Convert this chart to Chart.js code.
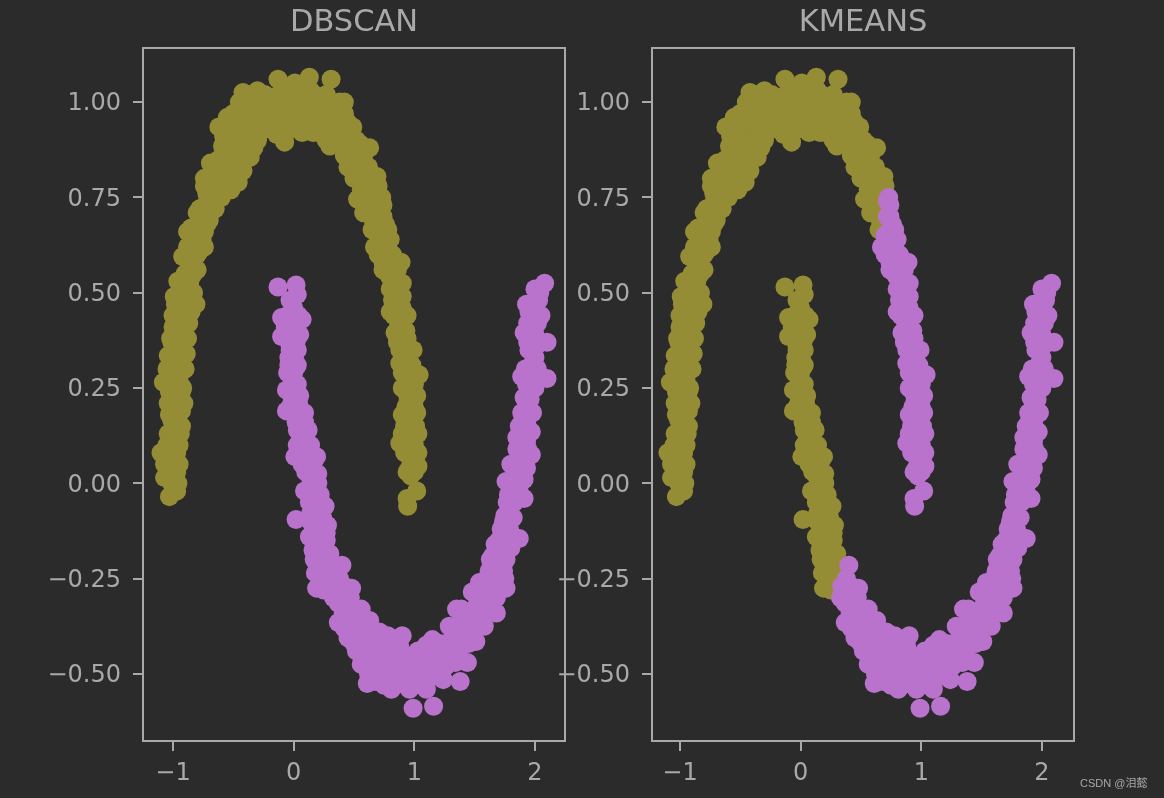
<!DOCTYPE html>
<html>
<head>
<meta charset="utf-8">
<title>DBSCAN vs KMEANS</title>
<script src="https://cdn.jsdelivr.net/npm/chart.js@4"></script>
<style>
  html, body { margin: 0; padding: 0; background: #2b2b2b; overflow: hidden; }
  #page { position: relative; width: 1164px; height: 798px; }
  #page canvas { position: absolute; top: 0; }
  #mark { position: absolute; left: 1080px; top: 774px; font: 11px "Liberation Sans", "Noto Sans CJK SC", sans-serif; color: #a8a8a8; white-space: nowrap; }
</style>
</head>
<body>
<div id="page">
  <canvas id="left" width="582" height="798" style="left:0"></canvas>
  <canvas id="right" width="664" height="798" style="left:500px"></canvas>
  <div id="mark">CSDN @泪懿</div>
</div>
<script>
/* --------------- Data --------------- */
const titles = ["DBSCAN", "KMEANS"];
const xTicks = [-1, 0, 1, 2];
const yTicks = [-0.5, -0.25, 0, 0.25, 0.5, 0.75, 1];

// upper moon, left foot to right foot: the points on the outline
const upperMoon = [
  [-1.03,-0.035],[-0.97,-0.02],[-1.00,-0.01],[-1.07,0.015],[-0.97,0.03],[-1.02,0.03],[-1.10,0.08],[-0.97,0.08],[-1.03,0.07],
  [-1.04,0.13],[-0.94,0.13],[-0.99,0.12],[-1.01,0.165],[-0.93,0.19],[-0.97,0.20],[-1.03,0.24],[-0.93,0.24],[-0.98,0.25],
  [-1.08,0.265],[-1.00,0.26],[-0.92,0.30],[-0.98,0.31],[-1.04,0.335],[-0.89,0.34],[-0.97,0.36],[-0.93,0.38],[-1.00,0.41],
  [-0.94,0.42],[-0.97,0.45],[-0.90,0.46],[-0.99,0.49],[-0.93,0.50],[-0.85,0.50],[-0.96,0.53],[-0.89,0.53],[-0.92,0.595],
  [-0.82,0.605],[-0.87,0.58],[-0.83,0.55],[-0.88,0.66],[-0.76,0.64],[-0.83,0.63],[-0.80,0.71],[-0.70,0.69],[-0.76,0.68],
  [-0.68,0.75],[-0.60,0.75],[-0.73,0.73],[-0.46,0.79],[-0.52,0.77],[-0.69,0.84],[-0.59,0.82],[-0.63,0.78],[-0.50,0.82],
  [-0.36,0.855],[-0.62,0.935],[-0.55,0.96],[-0.59,0.885],[-0.52,0.90],[-0.46,0.89],[-0.40,0.90],[-0.48,0.94],[-0.42,1.025],
  [-0.075,0.895],[-0.14,0.915],[-0.13,1.06],[0.13,1.065],[0.31,1.06],[0.01,1.05],[-0.30,0.95],[-0.36,0.98],[-0.25,0.97],
  [-0.33,1.01],[-0.24,1.02],[-0.16,1.00],[-0.19,0.95],[-0.07,1.02],[-0.10,0.97],[-0.02,0.95],[0.03,0.99],[0.05,1.03],
  [0.09,0.95],[0.10,1.00],[0.17,1.02],[0.16,0.92],[0.21,0.97],[0.26,1.00],[0.42,1.00],[0.34,0.98],[0.30,0.94],
  [0.49,0.935],[0.40,0.93],[0.30,0.885],[0.38,0.89],[0.63,0.88],[0.45,0.83],[0.52,0.86],[0.57,0.84],[0.69,0.805],
  [0.60,0.80],[0.53,0.745],[0.73,0.75],[0.64,0.75],[0.58,0.71],[0.65,0.665],[0.78,0.665],[0.72,0.70],[0.67,0.62],
  [0.80,0.64],[0.73,0.60],[0.89,0.58],[0.80,0.58],[0.78,0.55],[0.84,0.54],[0.90,0.525],[0.80,0.51],[0.86,0.47],
  [0.80,0.45],[0.94,0.44],[0.87,0.42],[0.84,0.395],[0.99,0.35],[0.89,0.36],[0.94,0.38],[0.88,0.315],[1.04,0.285],
  [0.94,0.28],[0.98,0.31],[1.02,0.23],[0.93,0.24],[0.97,0.20],[0.90,0.18],[1.02,0.185],[0.96,0.15],[0.88,0.105],
  [1.03,0.13],[0.94,0.12],[1.03,0.08],[0.94,0.08],[0.98,0.06],[0.94,0.03],[1.03,0.045],[1.02,-0.02],[0.94,-0.04],[0.945,-0.06]
];

// upper moon: the points packed inside the band
const upperInner = [
  [-1.01,0.00],[-0.99,0.05],[-1.00,0.10],[-0.97,0.11],[-0.98,0.15],[-1.00,0.19],[-0.96,0.17],[-0.98,0.22],[-1.01,0.28],
  [-0.95,0.27],[-0.96,0.32],[-1.01,0.37],[-0.95,0.34],[-0.98,0.39],[-0.92,0.36],[-0.96,0.40],[-0.90,0.41],[-0.93,0.45],
  [-0.88,0.43],[-0.90,0.55],[-0.85,0.57],[-0.80,0.56],[-0.88,0.62],[-0.84,0.60],[-0.78,0.61],[-0.85,0.67],[-0.80,0.67],
  [-0.74,0.66],[-0.78,0.72],[-0.72,0.72],[-0.70,0.78],[-0.65,0.72],[-0.74,0.78],[-0.66,0.80],[-0.62,0.85],
  [-0.55,0.85],[-0.58,0.91],[-0.52,0.86],[-0.45,0.84],[-0.40,0.86],[-0.53,0.93],[-0.46,0.95],[-0.42,0.96],[-0.35,0.93],
  [-0.30,1.00],[-0.28,0.92],[-0.20,0.98],[-0.22,1.00],[-0.12,1.02],[-0.05,0.99],[-0.03,1.03],[0.00,0.98],[0.07,0.98],
  [0.07,1.04],[0.12,0.97],[0.14,1.03],[0.20,1.01],[0.24,0.95],[0.27,1.02],[0.33,0.92],[0.36,0.95],[0.38,1.00],
  [0.44,0.95],[0.44,0.90],[0.48,0.88],[0.42,0.86],[0.55,0.89],[0.50,0.80],[0.56,0.77],[0.62,0.83],[0.66,0.78],
  [0.68,0.72],[0.66,0.69],[0.70,0.65],[0.74,0.65],[0.76,0.60],[0.70,0.60],[0.74,0.56],[0.84,0.58],[0.85,0.50],
  [0.82,0.48],[0.90,0.49],[0.88,0.44],[0.83,0.44],[0.91,0.40],[0.86,0.37],[0.92,0.34],[0.95,0.33],[0.90,0.29],
  [0.95,0.26],[0.90,0.25],[1.00,0.26],[0.99,0.24],[0.93,0.20],[0.98,0.17],[1.01,0.15],[0.92,0.15],[0.96,0.11],
  [1.00,0.10],[0.90,0.13],[0.96,0.04],[0.97,0.02],[1.00,0.03],[1.00,0.07],
  [-0.81,0.47],[-0.83,0.50],[-0.85,0.45],[-0.87,0.42],[-0.88,0.38],[-0.90,0.30],[-0.92,0.25],[-0.91,0.21],[-0.93,0.15],
  [-0.95,0.10],[-0.95,0.05],[-0.96,0.00],[-0.98,0.47],[-1.00,0.44],[-1.02,0.38],[-1.00,0.33],[-1.05,0.30],[-1.04,0.21],
  [-1.03,0.18],[-1.05,0.10],[-1.07,0.05],[-0.60,0.93],[-0.50,0.97],[-0.45,1.00],[-0.38,1.02],
  [-0.30,1.03],[-0.74,0.80],[-0.55,0.80],[-0.60,0.78],[-0.65,0.76],[-0.72,0.68],[-0.68,0.72],[-0.78,0.64],[-0.74,0.62],
  [-0.80,0.60],[-0.86,0.53],[-0.84,0.66],[-0.77,0.70],[-0.72,0.76],[-0.56,0.88],[-0.42,0.82],[-0.38,0.88],[-0.33,0.88],
  [-0.30,0.90],[-0.24,0.93],[-0.22,0.96],[-0.12,0.94],[-0.05,0.93],[0.02,0.93],[0.07,0.92],[0.12,0.94],[0.20,0.92],
  [0.27,0.90],[0.26,0.92],[0.36,0.91],[0.42,0.97],[0.46,0.92],[0.52,0.90],[0.58,0.86],[0.50,0.84],[0.54,0.80],
  [0.60,0.76],[0.65,0.72],[0.70,0.78],[0.74,0.73],[0.72,0.74],[0.74,0.70],[0.73,0.66],[0.76,0.68],[0.71,0.63],[0.78,0.62],[0.82,0.60],
  [0.74,0.58],[0.80,0.54],[0.87,0.52],[0.83,0.50],[0.88,0.46],[0.92,0.44],[0.95,0.22],[1.00,0.20],[0.93,0.16],
  [1.00,0.13],[0.96,0.09],[0.92,0.08],[1.00,0.05],[0.98,0.09],[0.96,0.13],[0.98,0.28],[0.96,0.30],[0.92,0.31],
  [0.93,0.40],[0.88,0.40],[0.88,0.35],[0.94,0.36],[0.90,0.46],[0.86,0.52],[0.86,0.56]
];

// lower moon, left tip to right tip: the points on the outline
const lowerMoon = [
  [-0.13,0.515],[0.02,0.52],[0.03,0.495],[-0.03,0.48],[-0.10,0.435],[0.07,0.43],[-0.02,0.44],[-0.10,0.385],[0.05,0.39],
  [-0.03,0.40],[-0.03,0.35],[0.01,0.34],[0.02,0.305],[-0.05,0.29],[0.00,0.27],[-0.06,0.245],[0.05,0.23],[-0.01,0.22],
  [-0.06,0.19],[0.09,0.185],[0.01,0.18],[0.03,0.14],[0.12,0.14],[0.07,0.10],[0.01,0.07],[0.19,0.07],[0.10,0.07],
  [0.07,0.05],[0.20,0.025],[0.13,0.02],[0.09,-0.02],[0.18,-0.02],[0.26,-0.06],[0.13,-0.05],[0.20,-0.07],[0.02,-0.095],
  [0.28,-0.11],[0.15,-0.105],[0.21,-0.12],[0.13,-0.14],[0.26,-0.15],[0.27,-0.15],[0.15,-0.145],[0.20,-0.17],[0.16,-0.175],
  [0.30,-0.185],[0.24,-0.20],[0.40,-0.215],[0.18,-0.235],[0.30,-0.23],[0.24,-0.25],[0.19,-0.275],[0.48,-0.275],[0.34,-0.27],
  [0.42,-0.27],[0.37,-0.315],[0.45,-0.31],[0.56,-0.33],[0.50,-0.33],[0.37,-0.365],[0.45,-0.405],[0.44,-0.36],[0.52,-0.37],
  [0.63,-0.36],[0.58,-0.39],[0.71,-0.39],[0.65,-0.41],[0.90,-0.40],[0.85,-0.41],[0.78,-0.40],[0.56,-0.475],[0.61,-0.525],
  [0.60,-0.44],[0.68,-0.45],[0.81,-0.54],[0.71,-0.48],[0.85,-0.445],[0.76,-0.45],[0.78,-0.50],[0.66,-0.48],[0.99,-0.59],
  [1.16,-0.585],[0.96,-0.54],[1.10,-0.54],[1.24,-0.515],[1.10,-0.425],[0.92,-0.48],[1.00,-0.47],[1.06,-0.49],[0.87,-0.51],
  [1.16,-0.48],[1.04,-0.52],[1.38,-0.52],[1.44,-0.47],[1.29,-0.465],[1.21,-0.42],[1.35,-0.33],[1.29,-0.375],[1.51,-0.415],
  [1.43,-0.39],[1.58,-0.375],[1.37,-0.42],[1.50,-0.35],[1.68,-0.34],[1.54,-0.33],[1.48,-0.285],[1.76,-0.275],[1.62,-0.29],
  [1.54,-0.26],[1.60,-0.33],[1.68,-0.27],[1.76,-0.20],[1.65,-0.19],[1.62,-0.23],[1.70,-0.22],[1.69,-0.155],[1.87,-0.145],
  [1.79,-0.12],[1.74,-0.14],[1.82,-0.09],[1.75,-0.085],[1.83,-0.05],[1.91,-0.04],[1.78,-0.03],[1.76,0.005],[1.91,0.01],
  [1.84,0.02],[1.85,0.09],[1.97,0.075],[1.90,0.07],[1.97,0.135],[1.90,0.14],[1.89,0.185],[1.98,0.185],[1.94,0.20],
  [1.91,0.225],[1.96,0.25],[1.89,0.28],[2.10,0.275],[1.98,0.28],[2.04,0.28],[2.00,0.33],[1.95,0.35],[1.91,0.395],
  [2.10,0.37],[2.00,0.39],[2.05,0.44],[1.96,0.44],[1.93,0.47],[2.00,0.46],[2.00,0.51],[2.08,0.525]
];

// lower moon: the points packed inside the band
const lowerInner = [
  [0.00,0.46],[-0.05,0.44],[0.04,0.44],[-0.07,0.41],[-0.01,0.41],[0.02,0.37],[-0.03,0.36],[0.01,0.32],[-0.02,0.32],
  [0.00,0.29],[-0.02,0.25],[0.03,0.26],[0.02,0.21],[-0.03,0.20],[0.05,0.19],[0.07,0.16],[0.05,0.13],[0.09,0.12],
  [0.03,0.10],[0.10,0.10],[0.14,0.10],[0.06,0.07],[0.13,0.05],[0.16,0.04],[0.10,0.03],[0.15,-0.01],[0.12,-0.02],
  [0.20,-0.04],[0.16,-0.05],[0.19,-0.09],[0.24,-0.09],[0.25,-0.13],[0.19,-0.15],[0.22,-0.17],[0.26,-0.19],[0.22,-0.22],
  [0.29,-0.21],[0.33,-0.22],[0.27,-0.27],[0.35,-0.22],[0.31,-0.27],[0.38,-0.25],[0.33,-0.30],[0.41,-0.30],[0.47,-0.30],
  [0.41,-0.34],[0.48,-0.36],[0.54,-0.36],[0.42,-0.38],[0.48,-0.39],[0.54,-0.40],[0.50,-0.42],[0.60,-0.41],[0.62,-0.38],
  [0.70,-0.42],[0.75,-0.42],[0.57,-0.45],[0.63,-0.46],[0.72,-0.44],[0.82,-0.43],[0.88,-0.43],[0.92,-0.45],[0.74,-0.52],
  [0.78,-0.48],[0.84,-0.48],[0.88,-0.46],[0.70,-0.50],[0.84,-0.53],[0.90,-0.52],[0.95,-0.50],[0.98,-0.51],[1.02,-0.45],
  [1.06,-0.44],[1.12,-0.45],[1.17,-0.44],[1.13,-0.51],[1.08,-0.47],[1.20,-0.46],[1.25,-0.44],[1.20,-0.50],[1.28,-0.42],
  [1.32,-0.43],[1.26,-0.48],[1.33,-0.38],[1.38,-0.37],[1.42,-0.36],[1.39,-0.33],[1.45,-0.34],[1.48,-0.37],[1.47,-0.40],
  [1.52,-0.32],[1.56,-0.30],[1.57,-0.35],[1.52,-0.28],[1.62,-0.33],[1.65,-0.30],[1.57,-0.26],[1.60,-0.25],[1.66,-0.25],
  [1.71,-0.25],[1.63,-0.20],[1.72,-0.18],[1.69,-0.19],[1.67,-0.16],[1.74,-0.17],[1.72,-0.12],[1.80,-0.17],[1.78,-0.08],
  [1.80,-0.04],[1.85,-0.02],[1.82,0.00],[1.87,0.03],[1.80,0.05],[1.89,0.05],[1.85,0.12],[1.93,0.11],[1.87,0.15],
  [1.93,0.16],[1.92,0.22],[1.95,0.30],[1.92,0.30],[2.02,0.30],[1.97,0.31],[1.94,0.37],[2.01,0.36],[1.96,0.40],
  [1.97,0.47],[2.03,0.48],[2.04,0.50],
  [0.03,0.31],[-0.04,0.31],[0.03,0.35],[-0.04,0.33],[0.00,0.24],[0.04,0.21],[0.02,0.16],[0.09,0.16],[0.08,0.09],
  [0.05,0.10],[0.15,0.07],[0.17,0.06],[0.11,0.05],[0.17,0.01],[0.15,0.03],[0.13,-0.02],[0.20,0.00],[0.22,-0.03],
  [0.14,-0.08],[0.23,-0.05],[0.17,-0.12],[0.27,-0.13],[0.17,-0.20],[0.24,-0.16],[0.20,-0.24],[0.28,-0.25],[0.25,-0.28],
  [0.52,-0.44],[0.55,-0.43],[0.62,-0.50],[0.68,-0.52],[0.75,-0.53],[0.80,-0.52],[0.90,-0.50],[1.00,-0.53],[1.06,-0.53],
  [1.12,-0.48],[1.03,-0.48],[1.38,-0.46],[1.34,-0.47],[1.66,-0.23],[1.74,-0.23],[1.70,-0.15],[1.74,-0.10],[1.68,-0.30],
  [1.75,-0.25],[1.60,-0.28],[1.56,-0.33],[1.50,-0.38],[1.45,-0.42],[1.40,-0.40],[1.35,-0.42],[1.30,-0.46],[1.36,-0.46],
  [1.32,-0.40],[1.23,-0.47],[1.15,-0.41],[1.03,-0.44],[1.77,-0.05],[1.88,-0.03],[1.80,0.00],[1.88,0.00],[1.85,0.05],
  [1.93,0.04],[1.90,0.10],[1.94,0.09],[1.95,0.14],[1.90,0.17],[1.94,0.18],[1.96,0.22],[1.93,0.26],[2.00,0.25],
  [1.98,0.35],[1.98,0.42],[1.94,0.42],[2.02,0.42],[1.95,0.45],[2.00,0.43],[2.00,0.48]
];

// k-means cluster centres, estimated from where the colours change
const kmeansCenters = [[-0.2, 0.53], [1.26, -0.01]];

const oliveColor = "#958d36";
const purpleColor = "#b973cc";
const inkColor = "#a9a9a9";

const upperAll = upperMoon.concat(upperInner);
const lowerAll = lowerMoon.concat(lowerInner);
const allPoints = upperAll.concat(lowerAll);
const toXY = p => ({ x: p[0], y: p[1] });
const dist2 = (p, c) => (p[0] - c[0]) ** 2 + (p[1] - c[1]) ** 2;
const nearFirst = p => dist2(p, kmeansCenters[0]) < dist2(p, kmeansCenters[1]);

/* --------------- Frame around the plot area --------------- */
const framePlugin = {
  id: "frame",
  afterDraw(chart) {
    const a = chart.chartArea, c = chart.ctx;
    c.save();
    c.strokeStyle = inkColor;
    c.lineWidth = 2;
    c.strokeRect(a.left, a.top, a.right - a.left, a.bottom - a.top);
    c.restore();
  }
};

/* --------------- One panel --------------- */
function makePanel(id, title, olive, purple, axisWidth, rightPad, xMin, xMax) {
  return new Chart(document.getElementById(id), {
    type: "scatter",
    plugins: [framePlugin],
    data: {
      datasets: [
        { data: olive.map(toXY), backgroundColor: oliveColor, order: 2 },
        { data: purple.map(toXY), backgroundColor: purpleColor, order: 1 }
      ]
    },
    options: {
      responsive: false,
      animation: false,
      layout: { padding: { left: 0, right: rightPad, top: 0, bottom: 0 } },
      elements: { point: { radius: 9.5, borderWidth: 0, hoverRadius: 9.5 } },
      plugins: {
        legend: { display: false },
        tooltip: { enabled: false },
        title: {
          display: true,
          text: title,
          color: inkColor,
          fullSize: false,
          font: { family: "DejaVu Sans", size: 30.5, weight: "normal", lineHeight: 1.18 },
          padding: { top: 5, bottom: 7 }
        }
      },
      scales: {
        x: {
          type: "linear",
          min: xMin,
          max: xMax,
          afterBuildTicks: s => { s.ticks = xTicks.map(v => ({ value: v })); },
          afterFit: s => { s.height = 57; },
          grid: { drawOnChartArea: false, color: inkColor, lineWidth: 2, tickLength: 10 },
          border: { display: false },
          ticks: {
            color: inkColor,
            padding: 8,
            maxRotation: 0,
            font: { family: "DejaVu Sans", size: 24 },
            callback: v => String(v).replace("-", "\u2212")
          }
        },
        y: {
          type: "linear",
          min: -0.676,
          max: 1.142,
          afterBuildTicks: s => { s.ticks = yTicks.map(v => ({ value: v })); },
          afterFit: s => { s.width = axisWidth; },
          grid: { drawOnChartArea: false, color: inkColor, lineWidth: 2, tickLength: 10 },
          border: { display: false },
          ticks: {
            color: inkColor,
            padding: 12,
            labelOffset: 2,
            font: { family: "DejaVu Sans", size: 24 },
            callback: v => v.toFixed(2).replace("-", "\u2212")
          }
        }
      }
    }
  });
}

makePanel("left", titles[0], upperAll, lowerAll, 143, 17, -1.249, 2.249);
makePanel("right", titles[1], allPoints.filter(nearFirst), allPoints.filter(p => !nearFirst(p)), 152, 90, -1.232, 2.266);
</script>
</body>
</html>
